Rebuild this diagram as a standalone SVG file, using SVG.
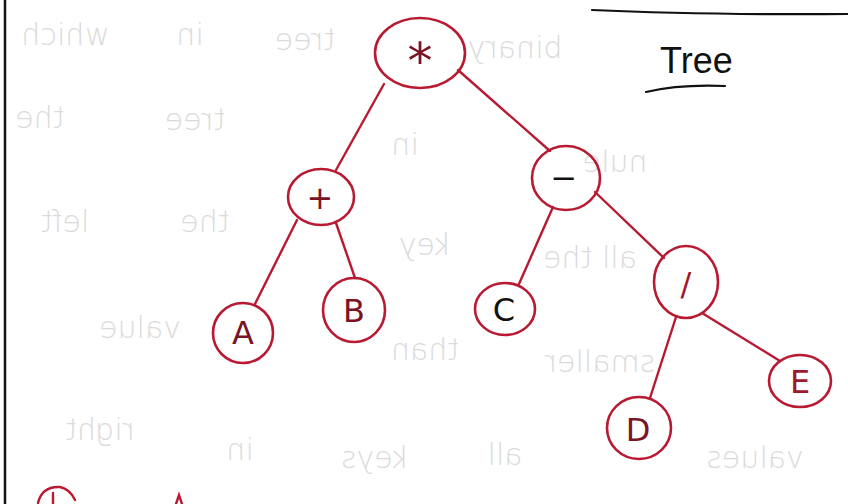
<svg xmlns="http://www.w3.org/2000/svg" width="848" height="504" viewBox="0 0 848 504">
<style>
.bg{fill:#ffffff}
.ghost{font-family:"DejaVu Sans",sans-serif;font-size:30px;fill:#dadada;font-weight:300}
.node{fill:none;stroke:#b81a32;stroke-width:2.6}
.edge{stroke:#b81a32;stroke-width:2.4;fill:none;stroke-linecap:round}
.lbl{font-family:"DejaVu Sans",sans-serif;font-size:32px;fill:#7a1424;text-anchor:middle}
.ink{stroke:#111111;fill:none;stroke-linecap:round}
</style>
<rect class="bg" x="0" y="0" width="848" height="504"/>
<g id="show-through">
<text class="ghost" transform="translate(65,45) scale(-1,1)" text-anchor="middle">which</text>
<text class="ghost" transform="translate(190,45) scale(-1,1)" text-anchor="middle">in</text>
<text class="ghost" transform="translate(305,50) scale(-1,1)" text-anchor="middle">tree</text>
<text class="ghost" transform="translate(515,58) scale(-1,1)" text-anchor="middle">binary</text>
<text class="ghost" transform="translate(40,128) scale(-1,1)" text-anchor="middle">the</text>
<text class="ghost" transform="translate(195,130) scale(-1,1)" text-anchor="middle">tree</text>
<text class="ghost" transform="translate(405,155) scale(-1,1)" text-anchor="middle">in</text>
<text class="ghost" transform="translate(615,172) scale(-1,1)" text-anchor="middle">nule</text>
<text class="ghost" transform="translate(65,232) scale(-1,1)" text-anchor="middle">left</text>
<text class="ghost" transform="translate(205,232) scale(-1,1)" text-anchor="middle">the</text>
<text class="ghost" transform="translate(425,255) scale(-1,1)" text-anchor="middle">key</text>
<text class="ghost" transform="translate(590,268) scale(-1,1)" text-anchor="middle">all the</text>
<text class="ghost" transform="translate(140,338) scale(-1,1)" text-anchor="middle">value</text>
<text class="ghost" transform="translate(425,360) scale(-1,1)" text-anchor="middle">than</text>
<text class="ghost" transform="translate(600,372) scale(-1,1)" text-anchor="middle">smaller</text>
<text class="ghost" transform="translate(100,440) scale(-1,1)" text-anchor="middle">right</text>
<text class="ghost" transform="translate(240,460) scale(-1,1)" text-anchor="middle">in</text>
<text class="ghost" transform="translate(375,468) scale(-1,1)" text-anchor="middle">keys</text>
<text class="ghost" transform="translate(505,465) scale(-1,1)" text-anchor="middle">all</text>
<text class="ghost" transform="translate(755,468) scale(-1,1)" text-anchor="middle">values</text>
</g>
<g id="page-lines">
<line class="ink" x1="5" y1="0" x2="5" y2="504" stroke-width="2.5"/>
<path class="ink" d="M592,10 Q700,15 848,14" stroke-width="2.2"/>
<path class="ink" d="M646,92 Q680,84 725,86" stroke-width="2.2"/>
</g>
<g id="title">
<text x="660" y="73" font-family="'Liberation Sans',sans-serif" font-size="36" fill="#111111">Tree</text>
</g>
<g id="connectors">
<line class="edge" x1="384" y1="84" x2="336" y2="170"/>
<line class="edge" x1="458" y1="70" x2="550" y2="151"/>
<line class="edge" x1="297" y1="220" x2="255" y2="304"/>
<line class="edge" x1="336" y1="223" x2="355" y2="278"/>
<line class="edge" x1="553" y1="207" x2="519" y2="284"/>
<line class="edge" x1="595" y1="192" x2="664" y2="258"/>
<line class="edge" x1="676" y1="317" x2="650" y2="398"/>
<line class="edge" x1="702" y1="313" x2="780" y2="361"/>
</g>
<g id="node-mul">
<ellipse class="node" cx="420" cy="53" rx="45" ry="35"/>
<text class="lbl" x="420" y="78" style="font-size:50px">*</text>
</g>
<g id="node-plus">
<ellipse class="node" cx="321" cy="197" rx="33" ry="28"/>
<text class="lbl" x="320" y="209">+</text>
</g>
<g id="node-minus">
<ellipse class="node" cx="566" cy="178" rx="34" ry="32"/>
<text class="lbl" x="564" y="189" style="fill:#111111">−</text>
</g>
<g id="node-A">
<ellipse class="node" cx="243" cy="333" rx="30" ry="30"/>
<text class="lbl" x="243" y="344">A</text>
</g>
<g id="node-B">
<ellipse class="node" cx="354" cy="310" rx="31" ry="32"/>
<text class="lbl" x="354" y="322">B</text>
</g>
<g id="node-C">
<ellipse class="node" cx="505" cy="309" rx="30" ry="26"/>
<text class="lbl" x="504" y="321" style="fill:#111111">C</text>
</g>
<g id="node-div">
<ellipse class="node" cx="686" cy="282" rx="32" ry="36"/>
<text class="lbl" x="686" y="295" style="fill:#a0182c">/</text>
</g>
<g id="node-D">
<ellipse class="node" cx="639" cy="428" rx="32" ry="31"/>
<text class="lbl" x="638" y="441">D</text>
</g>
<g id="node-E">
<ellipse class="node" cx="800" cy="381" rx="31" ry="26"/>
<text class="lbl" x="800" y="393" style="fill:#a0182c">E</text>
</g>
<g id="bottom-marks">
<path class="edge" d="M38,503 Q42,486 60,487 Q70,489 75,500"/>
<path class="edge" d="M53,493 L53,504"/>
<path class="edge" d="M176,504 L179,495 L182,504"/>
</g>
</svg>
